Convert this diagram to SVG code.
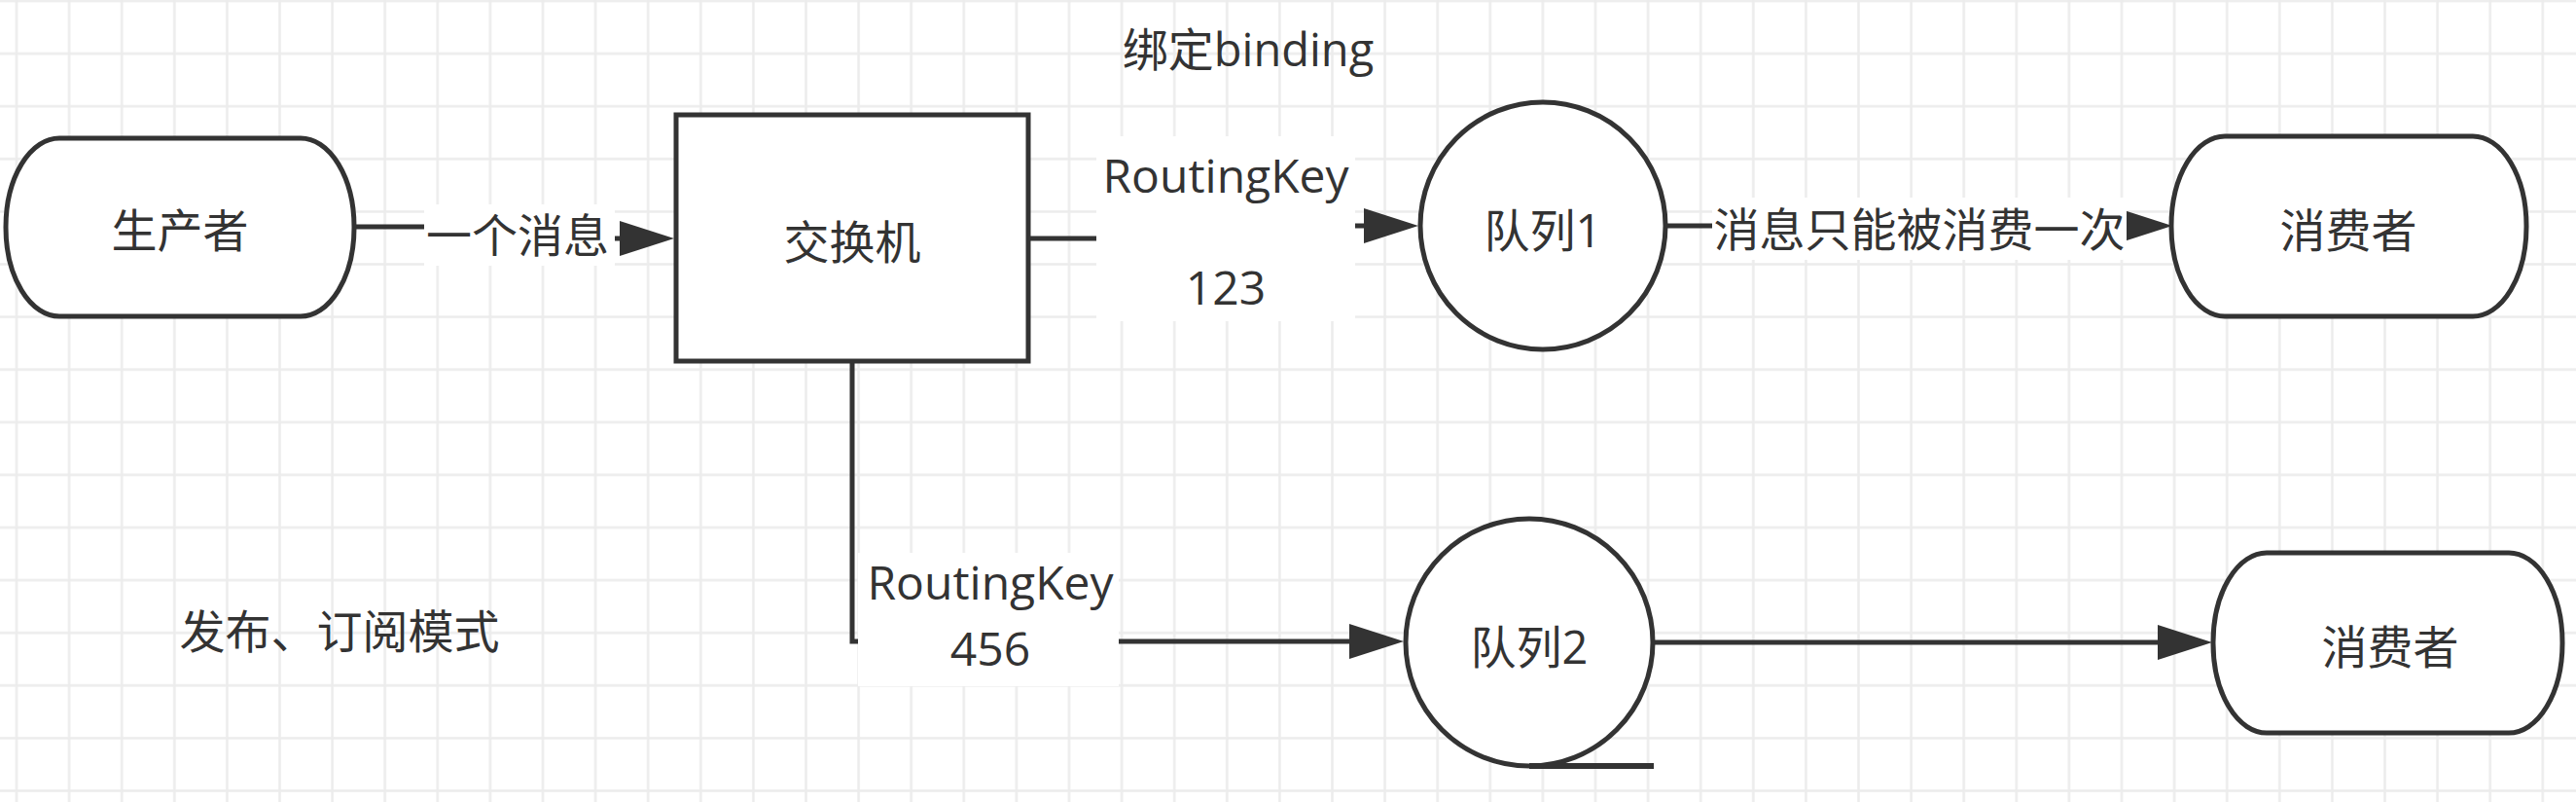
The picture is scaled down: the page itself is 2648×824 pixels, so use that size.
<svg xmlns="http://www.w3.org/2000/svg" width="2648" height="824" viewBox="0 0 2648 824">
<style>
.shape{fill:#ffffff;stroke:#333333;stroke-width:5}
.edge{fill:none;stroke:#333333;stroke-width:5;stroke-linejoin:miter}
.lbl{fill:#333333;font-family:"Open Sans","Noto Sans CJK SC",sans-serif;font-size:47px;text-anchor:middle}
.lat{font-size:48px}
.bg{fill:#ffffff;stroke:none}
</style>
<defs>
<pattern id="grid" patternUnits="userSpaceOnUse" x="-10.05" y="-26.05" width="54.1" height="54.1">
<path d="M27.05 0V54.1M0 27.05H54.1" stroke="#ececec" stroke-width="2.5" fill="none"/>
</pattern>
<marker id="arr" markerUnits="userSpaceOnUse" markerWidth="56" markerHeight="36" viewBox="0 0 56 36" refX="0" refY="18" orient="auto">
<path d="M0 0L56 18L0 36Z" fill="#333333"/>
</marker>
</defs>
<rect width="2648" height="824" fill="#ffffff"/>
<rect width="2648" height="824" fill="url(#grid)"/>

<g id="connectors">
<path class="edge" d="M364 233H532V245H637" marker-end="url(#arr)"/>
<path class="edge" d="M1057 245H1260V232H1402" marker-end="url(#arr)"/>
<path class="edge" d="M1712 232H2177" marker-end="url(#arr)"/>
<path class="edge" d="M876 371V659H1387" marker-end="url(#arr)"/>
<path class="edge" d="M1700 660H2218" marker-end="url(#arr)"/>
</g>

<g id="edge-labels">
<rect class="bg" x="436" y="210" width="196" height="63"/>
<text class="lbl" x="532" y="259">一个消息</text>
<rect class="bg" x="1127" y="140" width="266" height="190"/>
<text class="lbl lat" x="1260" y="198">RoutingKey</text>
<text class="lbl lat" x="1260" y="313">123</text>
<rect class="bg" x="1760" y="203" width="426" height="64"/>
<text class="lbl" x="1973" y="253">消息只能被消费一次</text>
<rect class="bg" x="882" y="568" width="268" height="137"/>
<text class="lbl lat" x="1018" y="616">RoutingKey</text>
<text class="lbl lat" x="1018" y="684">456</text>
</g>

<g id="producer">
<rect class="shape" x="6" y="142" width="358" height="183" rx="55" ry="91"/>
<text class="lbl" x="185" y="254">生产者</text>
</g>

<g id="exchange">
<rect class="shape" x="695" y="118" width="362" height="253"/>
<text class="lbl" x="876" y="266">交换机</text>
</g>

<g id="queue1">
<ellipse class="shape" cx="1586" cy="232" rx="126" ry="127"/>
<text class="lbl" x="1586" y="254">队列1</text>
</g>

<g id="consumer1">
<rect class="shape" x="2232" y="140" width="365" height="185" rx="55" ry="92"/>
<text class="lbl" x="2414" y="254">消费者</text>
</g>

<g id="queue2">
<ellipse class="shape" cx="1572" cy="660" rx="127" ry="127"/>
<path d="M1572 787H1700" stroke="#333333" stroke-width="6" fill="none"/>
<text class="lbl" x="1572" y="682">队列2</text>
</g>

<g id="consumer2">
<rect class="shape" x="2275" y="568" width="359" height="185" rx="55" ry="92"/>
<text class="lbl" x="2457" y="682">消费者</text>
</g>

<g id="binding-label">
<text class="lbl" x="1283" y="68">绑定binding</text>
</g>

<g id="title">
<text class="lbl" x="349" y="666">发布、订阅模式</text>
</g>
</svg>
